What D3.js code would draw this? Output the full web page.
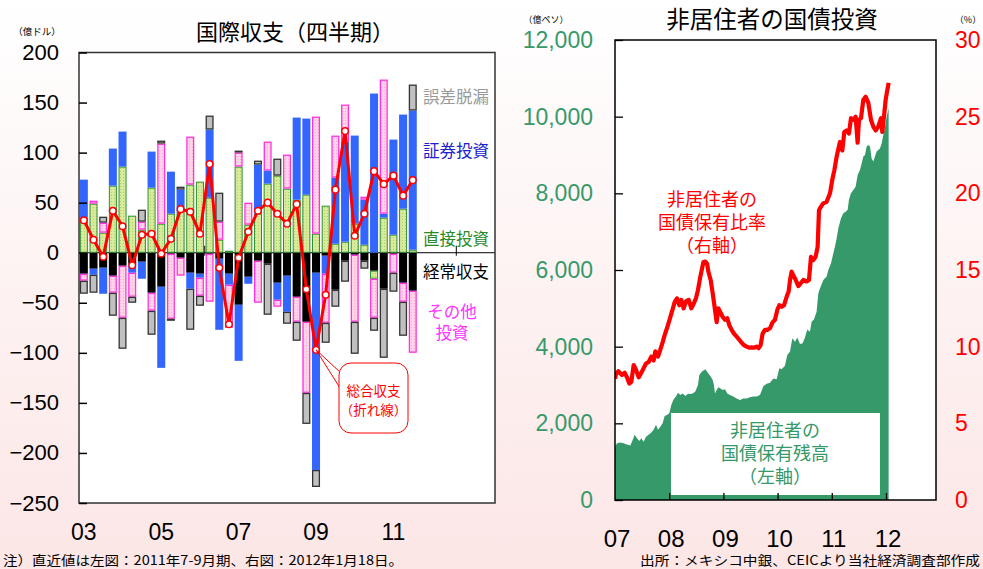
<!DOCTYPE html>
<html><head><meta charset="utf-8">
<script src="https://cdn.jsdelivr.net/npm/d3@7"></script>
<style>
html,body{margin:0;padding:0;background:#fff;}
svg{display:block;}
text{font-family:"Noto Sans CJK JP","Noto Sans",sans-serif;}
text.ml{font-family:"Liberation Sans","Noto Sans CJK JP",sans-serif;}
.num{font-family:"Liberation Sans",Arial,sans-serif;}
</style></head><body>
<svg id="chart" width="983" height="569"></svg>
<script>
// ---- Balance of payments, quarterly (USD 100 mn) ----
const quarters = ["2003Q1","2003Q2","2003Q3","2003Q4","2004Q1","2004Q2","2004Q3","2004Q4",
  "2005Q1","2005Q2","2005Q3","2005Q4","2006Q1","2006Q2","2006Q3","2006Q4",
  "2007Q1","2007Q2","2007Q3","2007Q4","2008Q1","2008Q2","2008Q3","2008Q4",
  "2009Q1","2009Q2","2009Q3","2009Q4","2010Q1","2010Q2","2010Q3","2010Q4",
  "2011Q1","2011Q2","2011Q3"];
const currentAccount = [-21,-16,-15,-23,-13,-11,-9,-40,-34,-1,-5,-20,-21,-1,-6,-21,-52,-24,-8,-11,-30,-23,-44,-69,-20,-3,-37,-8,-2,-8,-18,-36,-1,-30,-38];
const directInvestment = [35,49,20,67,86,37,23,65,29,39,41,68,71,55,13,2,86,28,39,69,77,64,53,58,19,47,9,11,29,8,-8,35,18,44,3];
const portfolioInvestment = [38,-6,-26,37,35,-9,-17,36,-81,42,22,-16,-4,68,-71,-11,-56,-7,49,13,-17,-36,82,76,-197,-18,66,100,88,45,159,4,95,94,139];
const otherInvestment = [-7,3,10,-17,-52,-24,8,-18,80,-65,-18,48,-18,-48,18,-43,14,22,-42,29,-7,34,-25,-71,117,-49,42,37,-67,3,-39,134,-19,-19,-62];
const errorsOmissions = [-13,-18,6,-23,-31,-6,12,-24,3,-2,3,-41,-10,14,29,0,2,0,4,-51,17,-12,-19,-31,-17,-20,-17,-21,-32,-8,-13,-69,-19,-34,26];
const overallBalance = [32.5,13,-4,42,26.5,-12.5,18,19,-1,14,43.5,41,19,88.5,-15,-71.5,-5,21,42,50,39,29,48.5,-36.5,-97,-42,63,121.5,17,39,81.5,68.5,77,57,72.5];
const leftYTicks = [200,150,100,50,0,-50,-100,-150,-200,-250];
const leftXLabels = [["2003Q1","03"],["2005Q1","05"],["2007Q1","07"],["2009Q1","09"],["2011Q1","11"]];
const slotCount = 43; // quarter slots on the axis (2003Q1 .. 2013Q3)

// ---- Non-resident holdings of government bonds (daily) ----
// [decimal year, MXN 100 mn]
const holdingsSeries = [[2007.000,1390],[2007.037,1480],[2007.098,1500],[2007.160,1480],[2007.221,1450],[2007.283,1420],[2007.326,1565],[2007.363,1700],[2007.406,1610],[2007.449,1540],[2007.486,1610],[2007.529,1520],[2007.572,1650],[2007.621,1700],[2007.670,1760],[2007.713,1830],[2007.756,1960],[2007.793,1830],[2007.836,1910],[2007.879,2000],[2007.916,2190],[2007.959,2220],[2008.002,2260],[2008.039,2480],[2008.082,2630],[2008.125,2700],[2008.162,2800],[2008.205,2740],[2008.248,2780],[2008.298,2710],[2008.347,2770],[2008.390,2765],[2008.433,2780],[2008.482,2830],[2008.531,3000],[2008.556,3260],[2008.605,3350],[2008.667,3410],[2008.722,3300],[2008.765,3220],[2008.802,3130],[2008.826,3000],[2008.845,2780],[2008.876,2870],[2008.906,2940],[2008.949,2910],[2008.986,2870],[2009.029,2890],[2009.072,2780],[2009.122,2740],[2009.183,2700],[2009.245,2650],[2009.306,2610],[2009.368,2650],[2009.429,2650],[2009.490,2680],[2009.552,2700],[2009.614,2700],[2009.675,2740],[2009.737,2970],[2009.798,3030],[2009.860,3060],[2009.921,3170],[2009.983,3150],[2010.032,3435],[2010.075,3410],[2010.136,3500],[2010.179,3780],[2010.228,3870],[2010.272,4220],[2010.321,4130],[2010.364,4240],[2010.413,4070],[2010.462,4090],[2010.505,4240],[2010.548,4450],[2010.597,4390],[2010.628,4650],[2010.671,4710],[2010.720,4910],[2010.751,5390],[2010.782,5520],[2010.844,5740],[2010.905,5830],[2010.936,6000],[2010.985,6170],[2011.028,6430],[2011.059,6610],[2011.090,6830],[2011.121,7090],[2011.170,7350],[2011.213,7480],[2011.256,7520],[2011.293,7570],[2011.317,7830],[2011.354,8000],[2011.397,8090],[2011.440,8170],[2011.477,8480],[2011.520,8610],[2011.551,8780],[2011.582,8960],[2011.613,9000],[2011.643,9220],[2011.674,9260],[2011.705,9220],[2011.735,8910],[2011.766,8830],[2011.797,8960],[2011.828,9090],[2011.858,9130],[2011.889,9170],[2011.920,9300],[2011.951,9520],[2011.982,9740],[2012.012,10000],[2012.043,10190],[2012.049,10220]];
// [decimal year, share held by non-residents %]
const ratioSeries = [[2007.000,7.9],[2007.018,8.2],[2007.061,8.4],[2007.129,8.15],[2007.178,8.3],[2007.221,8.0],[2007.264,7.6],[2007.301,7.7],[2007.344,8.8],[2007.387,8.5],[2007.437,8.0],[2007.486,8.3],[2007.529,8.6],[2007.572,8.9],[2007.621,9.0],[2007.670,9.35],[2007.713,9.1],[2007.744,9.7],[2007.793,9.35],[2007.836,9.8],[2007.880,10.3],[2007.916,10.75],[2007.959,11.2],[2008.002,11.7],[2008.052,12.3],[2008.101,12.9],[2008.144,13.15],[2008.187,12.7],[2008.224,13.05],[2008.267,12.5],[2008.310,12.95],[2008.359,13.05],[2008.408,12.5],[2008.451,12.8],[2008.494,13.15],[2008.531,13.7],[2008.574,14.55],[2008.630,15.5],[2008.667,15.55],[2008.700,15.4],[2008.722,14.9],[2008.765,14.35],[2008.802,13.5],[2008.845,12.4],[2008.876,11.6],[2008.906,12.5],[2008.950,12.2],[2008.986,11.95],[2009.029,11.75],[2009.072,11.85],[2009.109,11.4],[2009.152,11.1],[2009.195,10.85],[2009.245,10.65],[2009.294,10.45],[2009.337,10.25],[2009.380,10.1],[2009.429,10.0],[2009.478,9.93],[2009.521,9.95],[2009.564,9.93],[2009.614,10.0],[2009.650,9.9],[2009.687,10.1],[2009.724,10.85],[2009.767,11.1],[2009.810,11.1],[2009.860,11.2],[2009.909,11.6],[2009.952,11.75],[2009.995,12.4],[2010.032,12.7],[2010.075,12.6],[2010.118,12.7],[2010.167,13.25],[2010.204,13.6],[2010.228,14.3],[2010.259,14.9],[2010.290,14.65],[2010.321,14.45],[2010.383,13.95],[2010.475,14.35],[2010.536,14.25],[2010.579,14.35],[2010.616,15.85],[2010.659,15.65],[2010.700,15.85],[2010.739,16.5],[2010.764,18.9],[2010.795,19.1],[2010.844,19.35],[2010.905,19.45],[2010.967,20.0],[2011.010,20.9],[2011.047,21.5],[2011.090,22.4],[2011.151,23.35],[2011.194,22.8],[2011.231,24.0],[2011.274,24.1],[2011.317,23.9],[2011.354,24.9],[2011.397,24.8],[2011.440,25.0],[2011.477,23.3],[2011.502,24.8],[2011.539,24.9],[2011.582,26.1],[2011.625,26.3],[2011.674,25.9],[2011.723,24.8],[2011.766,24.35],[2011.809,24.1],[2011.858,24.35],[2011.908,24.9],[2011.932,24.0],[2011.969,25.2],[2011.994,26.1],[2012.018,26.6],[2012.049,27.2]];
const holdingsTicks = [0,2000,4000,6000,8000,10000,12000];
const ratioTicks = [0,5,10,15,20,25,30];
const yearTicks = [2007,2008,2009,2010,2011,2012];

const svg = d3.select("#chart");
const defs = svg.append("defs");

// page background
const bg = defs.append("linearGradient").attr("id","bgGrad").attr("x1",0).attr("y1",0).attr("x2",0).attr("y2",1);
bg.append("stop").attr("offset","0%").attr("stop-color","#ffffff");
bg.append("stop").attr("offset","100%").attr("stop-color","#fce6e6");
svg.append("rect").attr("width",983).attr("height",569).attr("fill","url(#bgGrad)");

// fill textures
function dotPattern(id, base, dot){
  const p = defs.append("pattern").attr("id",id).attr("width",3).attr("height",3).attr("patternUnits","userSpaceOnUse");
  p.append("rect").attr("width",3).attr("height",3).attr("fill",base);
  p.append("rect").attr("width",1).attr("height",1).attr("fill",dot);
}
dotPattern("texGreen","#d8ea9c","#b0cf62");
dotPattern("texPink","#ffd4e8","#ffa8d2");

// centred label, one text element per line
function label(lines, x, y, color, fs, gap){
  lines.forEach((s,k)=>svg.append("text").attr("class","ml").attr("x",x).attr("y",y + k*gap)
    .attr("text-anchor","middle").attr("font-size",fs).attr("fill",color).text(s));
}

// ================= left: balance of payments =================
const L = {x0:79, x1:495, y0:52.5, y1:503};
svg.append("rect").attr("x",L.x0).attr("y",L.y0).attr("width",L.x1-L.x0).attr("height",L.y1-L.y0).attr("fill","#fff");

const xq = d3.scaleBand().domain(d3.range(slotCount)).range([L.x0,L.x1]).paddingInner(0.17).paddingOuter(0.085);
const qIndex = q => quarters.indexOf(q);
const xc = i => xq(i) + xq.bandwidth()/2;
const yL = d3.scaleLinear().domain([-250,200]).range([L.y1,L.y0]);

// zero line
svg.append("line").attr("x1",L.x0).attr("x2",L.x1).attr("y1",yL(0)).attr("y2",yL(0)).attr("stroke","#000").attr("stroke-width",1);
[13,26,39].forEach(k=>{
  const xx = L.x0 + k*xq.step();
  svg.append("line").attr("x1",xx).attr("x2",xx).attr("y1",yL(0)-7).attr("y2",yL(0)+3).attr("stroke","#000").attr("stroke-width",1);
});

const rows = quarters.map((q,i)=>({
  current: currentAccount[i], direct: directInvestment[i], portfolio: portfolioInvestment[i],
  other: otherInvestment[i], errors: errorsOmissions[i]
}));
const keys = ["current","direct","portfolio","other","errors"];
const style = {
  current:{fill:"#000000", stroke:"none", sw:0},
  direct:{fill:"url(#texGreen)", stroke:"#2e8f2e", sw:1},
  portfolio:{fill:"#3366ff", stroke:"none", sw:0},
  other:{fill:"url(#texPink)", stroke:"#ff33dd", sw:1.3},
  errors:{fill:"#c0c0c0", stroke:"#333", sw:1.3}
};
const stacked = d3.stack().keys(keys).offset(d3.stackOffsetDiverging)(rows);
const barG = svg.append("g");
stacked.forEach(s=>{
  const st = style[s.key];
  barG.selectAll(null).data(s.map((d,i)=>({d,i})).filter(e=>Math.abs(e.d[1]-e.d[0])>0.01))
    .join("rect")
    .attr("x",e=>xq(e.i)+st.sw/2)
    .attr("width",xq.bandwidth()-st.sw)
    .attr("y",e=>yL(Math.max(e.d[0],e.d[1]))+st.sw/2)
    .attr("height",e=>Math.max(0.5,Math.abs(yL(e.d[0])-yL(e.d[1]))-st.sw))
    .attr("fill",st.fill).attr("stroke",st.stroke).attr("stroke-width",st.sw);
});

// overall balance line
const netLine = d3.line().x((v,i)=>xc(i)).y(v=>yL(v));
svg.append("path").attr("d",netLine(overallBalance)).attr("fill","none").attr("stroke","#ff0000").attr("stroke-width",3).attr("stroke-linejoin","round");
svg.append("g").selectAll("circle").data(overallBalance).join("circle")
  .attr("cx",(v,i)=>xc(i)).attr("cy",v=>yL(v)).attr("r",3.3)
  .attr("fill","#fff").attr("stroke","#ff0000").attr("stroke-width",1.5);

// left frame and y axis
svg.append("rect").attr("x",L.x0).attr("y",L.y0).attr("width",L.x1-L.x0).attr("height",L.y1-L.y0)
  .attr("fill","none").attr("stroke","#333").attr("stroke-width",1.5);
const axL = svg.append("g").attr("transform",`translate(${L.x0},0)`)
  .call(d3.axisLeft(yL).tickValues(leftYTicks).tickSize(-8).tickPadding(20).tickFormat(d3.format("d")));
axL.select(".domain").remove();
axL.selectAll("line").attr("stroke","#000").attr("stroke-width",1.5);
axL.selectAll("text").attr("class","num").attr("font-size",22).attr("fill","#000");

// x labels
svg.append("g").selectAll("text").data(leftXLabels).join("text").attr("class","num")
  .attr("x",d=>xc(qIndex(d[0]))).attr("y",540).attr("text-anchor","middle")
  .attr("font-size",23).attr("fill","#000").text(d=>d[1]);

// series labels
label(["誤差脱漏"],456,103,"#999999",16.5,0);
label(["証券投資"],456,157,"#2020cc",16.5,0);
label(["直接投資"],456,245,"#2a8a2a",16.5,0);
label(["経常収支"],456,278,"#000000",16.5,0);
label(["その他","投資"],452,318,"#ff33ff",16.5,21);

// callout for overall balance
const anchorI = qIndex("2009Q1");
const ax = xc(anchorI), ay = yL(overallBalance[anchorI]);
svg.append("path").attr("d",`M${ax},${ay}L341,373M${ax},${ay}L340,388`).attr("stroke","#ff0000").attr("stroke-width",1).attr("fill","none");
svg.append("rect").attr("x",339).attr("y",363).attr("width",69).attr("height",70).attr("rx",12)
  .attr("fill","#fff").attr("stroke","#ff0000").attr("stroke-width",1);
label(["総合収支","（折れ線）"],373.5,396,"#ff0000",13.5,19);

// titles & units
svg.append("text").attr("x",295).attr("y",40).attr("text-anchor","middle").attr("font-size",22).attr("fill","#000").text("国際収支（四半期）");
svg.append("text").attr("x",37).attr("y",35).attr("text-anchor","middle").attr("font-size",9.5).attr("fill","#000").text("（億ドル）");

// ================= right: non-resident bond holdings =================
const R = {x0:615, x1:936, y0:40, y1:500};
svg.append("rect").attr("x",R.x0).attr("y",R.y0).attr("width",R.x1-R.x0).attr("height",R.y1-R.y0).attr("fill","#fff");
defs.append("clipPath").attr("id","clipR").append("rect").attr("x",R.x0).attr("y",R.y0).attr("width",R.x1-R.x0).attr("height",R.y1-R.y0);

const xT = d3.scaleLinear().domain([2007,2012.923]).range([R.x0,R.x1]);
const yH = d3.scaleLinear().domain([0,12000]).range([R.y1,R.y0]);
const yR = d3.scaleLinear().domain([0,30]).range([R.y1,R.y0]);
const gR = svg.append("g").attr("clip-path","url(#clipR)");

gR.append("path").attr("d",d3.area().x(d=>xT(d[0])).y0(yH(0)).y1(d=>yH(d[1]))(holdingsSeries)).attr("fill","#36996a");
gR.append("path").attr("d",d3.line().x(d=>xT(d[0])).y(d=>yR(d[1]))(ratioSeries))
  .attr("fill","none").attr("stroke","#ff0000").attr("stroke-width",4.2).attr("stroke-linejoin","round");

// label box over the area
svg.append("rect").attr("x",671).attr("y",413).attr("width",209).attr("height",82).attr("fill","#fff");
label(["非居住者の","国債保有残高","（左軸）"],775,437,"#36996a",18,23);
label(["非居住者の","国債保有比率","（右軸）"],712,206,"#ff0000",18,23);

// frame + axes
svg.append("rect").attr("x",R.x0).attr("y",R.y0).attr("width",R.x1-R.x0).attr("height",R.y1-R.y0)
  .attr("fill","none").attr("stroke","#000").attr("stroke-width",1.5);
const axH = svg.append("g").attr("transform",`translate(${R.x0},0)`)
  .call(d3.axisLeft(yH).tickValues(holdingsTicks).tickSize(-8).tickPadding(22).tickFormat(d3.format(",")));
axH.select(".domain").remove();
axH.selectAll("line").attr("stroke","#000").attr("stroke-width",1.3);
axH.selectAll("text").attr("class","num").attr("font-size",23).attr("fill","#36996a");
const axR = svg.append("g").attr("transform",`translate(${R.x1},0)`)
  .call(d3.axisRight(yR).tickValues(ratioTicks).tickSize(0).tickPadding(19).tickFormat(d3.format("d")));
axR.select(".domain").remove();
axR.selectAll("text").attr("class","num").attr("font-size",23).attr("fill","#ff0000");
const axT = svg.append("g").attr("transform",`translate(0,${R.y1})`)
  .call(d3.axisBottom(xT).tickValues(yearTicks.slice(1)).tickSize(-7).tickFormat(""));
axT.select(".domain").remove();
axT.selectAll("line").attr("stroke","#000").attr("stroke-width",1.3);
svg.append("g").selectAll("text").data(yearTicks).join("text").attr("class","num")
  .attr("x",d=>xT(d)+2).attr("y",547).attr("text-anchor","middle").attr("font-size",24).attr("fill","#000")
  .text(d=>String(d).slice(2));

svg.append("text").attr("x",772).attr("y",28).attr("text-anchor","middle").attr("font-size",23.5).attr("fill","#000").text("非居住者の国債投資");
svg.append("text").attr("x",546).attr("y",23).attr("text-anchor","middle").attr("font-size",9).attr("fill","#000").text("（億ペソ）");
svg.append("text").attr("x",968).attr("y",23).attr("text-anchor","middle").attr("font-size",9).attr("fill","#000").text("（%）");

// notes
svg.append("text").attr("x",3).attr("y",565).attr("font-size",13).attr("fill","#000")
  .attr("textLength",400).attr("lengthAdjust","spacingAndGlyphs").text("注）直近値は左図：2011年7-9月期、右図：2012年1月18日。");
svg.append("text").attr("x",640).attr("y",565).attr("font-size",13).attr("fill","#000")
  .attr("textLength",340).attr("lengthAdjust","spacingAndGlyphs").text("出所：メキシコ中銀、CEICより当社経済調査部作成");
</script></body></html>
